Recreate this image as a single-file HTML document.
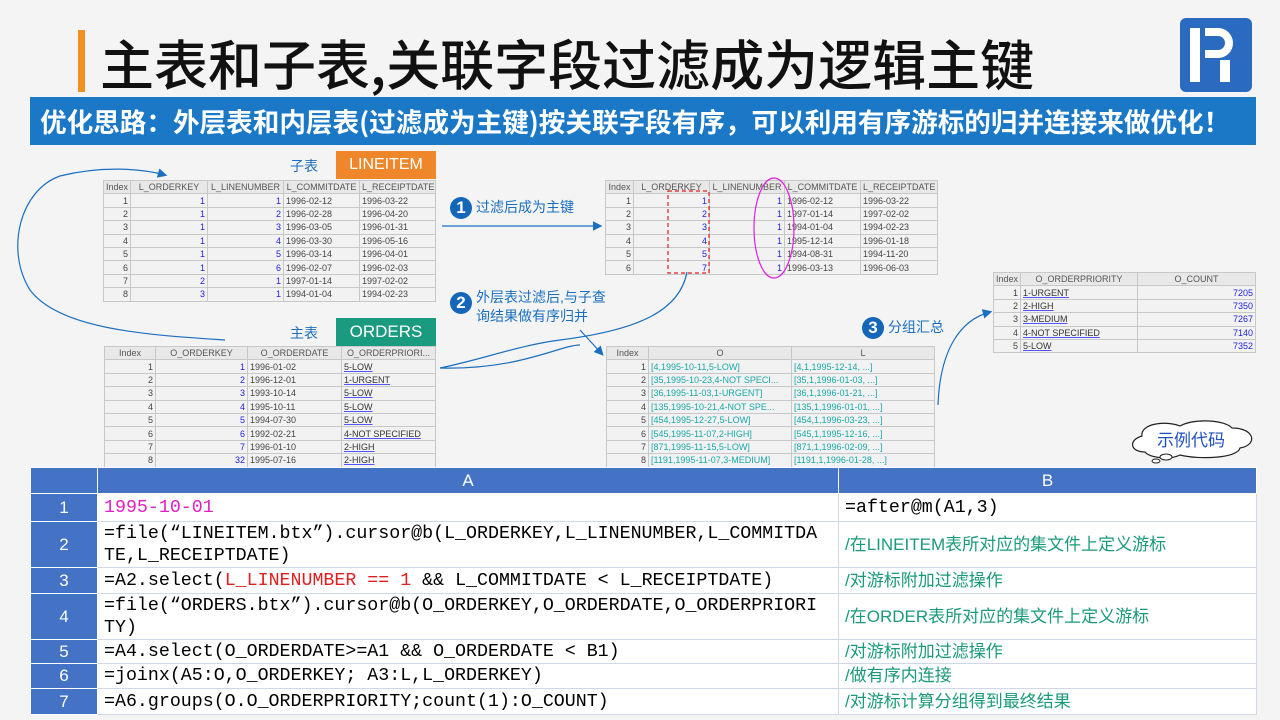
<!DOCTYPE html>
<html><head><meta charset="utf-8"><style>
*{margin:0;padding:0;box-sizing:border-box}
body{width:1280px;height:720px;background:#f4f4f4;position:relative;overflow:hidden;font-family:"Liberation Sans","Noto Sans CJK SC",sans-serif}
.abs{position:absolute}
table.t{position:absolute;border-collapse:collapse;table-layout:fixed;font-size:9px;color:#444;background:#f2f2f2}
table.t td{border:1px solid #c8c8c8;height:13.4px;padding:0 2px;white-space:nowrap;overflow:hidden;line-height:12px}
table.t tr:first-child td{text-align:center;background:#e8e8e8;color:#555}
table.t td.r{text-align:right}
.b{color:#2222dd}
.u{color:#333;text-decoration:underline;text-decoration-color:#55f}
.c{color:#18a8a8}
.lbl{font-size:14px;color:#1a6fc0}
.circ{display:inline-block;width:22px;height:22px;border-radius:50%;background:#1466b8;color:#fff;font-weight:bold;font-size:17px;text-align:center;line-height:22px;vertical-align:middle;margin-right:4px}
table.m{position:absolute;left:30px;top:467px;width:1226px;border-collapse:collapse;table-layout:fixed;font-family:"Liberation Mono","Noto Sans CJK SC",monospace;font-size:18.3px}
table.m td{border:1px solid #d0d8e8;padding:0 6px;background:#fff;line-height:22px;vertical-align:middle;white-space:nowrap}
table.m td.n{background:#4472c4;color:#fff;text-align:center;font-family:"Liberation Sans",sans-serif;border-color:#fff;font-size:17px}
table.m tr.h td{background:#4472c4;color:#fff;text-align:center;font-family:"Liberation Sans",sans-serif;height:26px;border-color:#fff;font-size:17px}
.g{color:#1a9a7a;font-family:"Liberation Sans","Noto Sans CJK SC",sans-serif;font-size:17px}
</style></head><body>
<div class="abs" style="left:78px;top:30px;width:7px;height:62px;background:#f0901e"></div>
<div class="abs" style="left:100px;top:22px;font-size:54px;color:#111;font-family:'Noto Sans CJK SC',sans-serif;font-weight:500;white-space:nowrap">主表和子表,关联字段过滤成为逻辑主键</div>
<div class="abs" style="left:1180px;top:18px;width:72px;height:74px;background:#2a6ac0;border-radius:6px">
<div class="abs" style="left:10px;top:10px;width:10px;height:54px;background:#fff"></div>
<div class="abs" style="left:25px;top:10px;width:28px;height:30px;border:8px solid #fff;border-left:none;border-radius:0 16px 16px 0"></div>
<div class="abs" style="left:40px;top:42px;width:10px;height:22px;background:#fff"></div>
</div>
<div class="abs" style="left:30px;top:97px;width:1226px;height:48px;background:#1a78c6;color:#fff;font-size:26.6px;font-weight:bold;line-height:48px;padding-left:10px;font-family:'Noto Sans CJK SC',sans-serif;white-space:nowrap">优化思路：外层表和内层表(过滤成为主键)按关联字段有序，可以利用有序游标的归并连接来做优化！</div>

<div class="abs lbl" style="left:290px;top:156px">子表</div>
<div class="abs" style="left:336px;top:151px;width:100px;height:28px;background:#f0862a;color:#fff;font-size:16px;text-align:center;line-height:28px">LINEITEM</div>
<table class="t" style="left:103px;top:180px;width:332px">
<col style="width:27px"><col style="width:77px"><col style="width:76px"><col style="width:76px"><col style="width:76px">
<tr><td>Index</td><td>L_ORDERKEY</td><td>L_LINENUMBER</td><td>L_COMMITDATE</td><td>L_RECEIPTDATE</td></tr>
<tr><td class="r">1</td><td class="r b">1</td><td class="r b">1</td><td>1996-02-12</td><td>1996-03-22</td></tr>
<tr><td class="r">2</td><td class="r b">1</td><td class="r b">2</td><td>1996-02-28</td><td>1996-04-20</td></tr>
<tr><td class="r">3</td><td class="r b">1</td><td class="r b">3</td><td>1996-03-05</td><td>1996-01-31</td></tr>
<tr><td class="r">4</td><td class="r b">1</td><td class="r b">4</td><td>1996-03-30</td><td>1996-05-16</td></tr>
<tr><td class="r">5</td><td class="r b">1</td><td class="r b">5</td><td>1996-03-14</td><td>1996-04-01</td></tr>
<tr><td class="r">6</td><td class="r b">1</td><td class="r b">6</td><td>1996-02-07</td><td>1996-02-03</td></tr>
<tr><td class="r">7</td><td class="r b">2</td><td class="r b">1</td><td>1997-01-14</td><td>1997-02-02</td></tr>
<tr><td class="r">8</td><td class="r b">3</td><td class="r b">1</td><td>1994-01-04</td><td>1994-02-23</td></tr>
</table>

<div class="abs lbl" style="left:290px;top:323px">主表</div>
<div class="abs" style="left:336px;top:318px;width:100px;height:28px;background:#1a9a7e;color:#fff;font-size:17px;text-align:center;line-height:28px">ORDERS</div>
<table class="t" style="left:104px;top:346px;width:331px">
<col style="width:51px"><col style="width:92px"><col style="width:94px"><col style="width:94px">
<tr><td>Index</td><td>O_ORDERKEY</td><td>O_ORDERDATE</td><td>O_ORDERPRIORI...</td></tr>
<tr><td class="r">1</td><td class="r b">1</td><td>1996-01-02</td><td><span class="u">5-LOW</span></td></tr>
<tr><td class="r">2</td><td class="r b">2</td><td>1996-12-01</td><td><span class="u">1-URGENT</span></td></tr>
<tr><td class="r">3</td><td class="r b">3</td><td>1993-10-14</td><td><span class="u">5-LOW</span></td></tr>
<tr><td class="r">4</td><td class="r b">4</td><td>1995-10-11</td><td><span class="u">5-LOW</span></td></tr>
<tr><td class="r">5</td><td class="r b">5</td><td>1994-07-30</td><td><span class="u">5-LOW</span></td></tr>
<tr><td class="r">6</td><td class="r b">6</td><td>1992-02-21</td><td><span class="u">4-NOT SPECIFIED</span></td></tr>
<tr><td class="r">7</td><td class="r b">7</td><td>1996-01-10</td><td><span class="u">2-HIGH</span></td></tr>
<tr><td class="r">8</td><td class="r b">32</td><td>1995-07-16</td><td><span class="u">2-HIGH</span></td></tr>
</table>

<table class="t" style="left:605px;top:180px;width:332px">
<col style="width:28px"><col style="width:76px"><col style="width:75px"><col style="width:76px"><col style="width:77px">
<tr><td>Index</td><td>L_ORDERKEY</td><td>L_LINENUMBER</td><td>L_COMMITDATE</td><td>L_RECEIPTDATE</td></tr>
<tr><td class="r">1</td><td class="r b">1</td><td class="r b">1</td><td>1996-02-12</td><td>1996-03-22</td></tr>
<tr><td class="r">2</td><td class="r b">2</td><td class="r b">1</td><td>1997-01-14</td><td>1997-02-02</td></tr>
<tr><td class="r">3</td><td class="r b">3</td><td class="r b">1</td><td>1994-01-04</td><td>1994-02-23</td></tr>
<tr><td class="r">4</td><td class="r b">4</td><td class="r b">1</td><td>1995-12-14</td><td>1996-01-18</td></tr>
<tr><td class="r">5</td><td class="r b">5</td><td class="r b">1</td><td>1994-08-31</td><td>1994-11-20</td></tr>
<tr><td class="r">6</td><td class="r b">7</td><td class="r b">1</td><td>1996-03-13</td><td>1996-06-03</td></tr>
</table>

<table class="t" style="left:606px;top:346px;width:328px">
<col style="width:42px"><col style="width:143px"><col style="width:143px">
<tr><td>Index</td><td>O</td><td>L</td></tr>
<tr><td class="r">1</td><td class="c">[4,1995-10-11,5-LOW]</td><td class="c">[4,1,1995-12-14, ...]</td></tr>
<tr><td class="r">2</td><td class="c">[35,1995-10-23,4-NOT SPECI...</td><td class="c">[35,1,1996-01-03, ...]</td></tr>
<tr><td class="r">3</td><td class="c">[36,1995-11-03,1-URGENT]</td><td class="c">[36,1,1996-01-21, ...]</td></tr>
<tr><td class="r">4</td><td class="c">[135,1995-10-21,4-NOT SPE...</td><td class="c">[135,1,1996-01-01, ...]</td></tr>
<tr><td class="r">5</td><td class="c">[454,1995-12-27,5-LOW]</td><td class="c">[454,1,1996-03-23, ...]</td></tr>
<tr><td class="r">6</td><td class="c">[545,1995-11-07,2-HIGH]</td><td class="c">[545,1,1995-12-16, ...]</td></tr>
<tr><td class="r">7</td><td class="c">[871,1995-11-15,5-LOW]</td><td class="c">[871,1,1996-02-09, ...]</td></tr>
<tr><td class="r">8</td><td class="c">[1191,1995-11-07,3-MEDIUM]</td><td class="c">[1191,1,1996-01-28, ...]</td></tr>
</table>

<table class="t" style="left:993px;top:272px;width:262px">
<col style="width:27px"><col style="width:117px"><col style="width:118px">
<tr><td>Index</td><td>O_ORDERPRIORITY</td><td>O_COUNT</td></tr>
<tr><td class="r">1</td><td><span class="u">1-URGENT</span></td><td class="r b">7205</td></tr>
<tr><td class="r">2</td><td><span class="u">2-HIGH</span></td><td class="r b">7350</td></tr>
<tr><td class="r">3</td><td><span class="u">3-MEDIUM</span></td><td class="r b">7267</td></tr>
<tr><td class="r">4</td><td><span class="u">4-NOT SPECIFIED</span></td><td class="r b">7140</td></tr>
<tr><td class="r">5</td><td><span class="u">5-LOW</span></td><td class="r b">7352</td></tr>
</table>

<div class="abs lbl" style="left:450px;top:197px"><span class="circ">1</span>过滤后成为主键</div>
<div class="abs" style="left:450px;top:288px;display:flex"><span class="circ" style="margin-top:4px">2</span><span class="lbl" style="line-height:19px">外层表过滤后,与子查<br>询结果做有序归并</span></div>
<div class="abs lbl" style="left:862px;top:317px"><span class="circ">3</span>分组汇总</div>

<svg class="abs" style="left:0;top:0" width="1280" height="470">
<defs><marker id="a" markerWidth="8" markerHeight="8" refX="6" refY="4" orient="auto"><path d="M0,0 L8,4 L0,8z" fill="#1a6fc0"/></marker></defs>
<g fill="none" stroke="#1a6fc0" stroke-width="1.2">
<path d="M225,340 C150,335 60,330 30,290 C5,250 20,190 60,176 C100,166 140,168 165,175" marker-end="url(#a)"/>
<path d="M442,226 L600,226" marker-end="url(#a)"/>
<path d="M440,368 C520,370 560,345 580,345" />
<path d="M687,272 C680,310 640,330 560,340 C520,345 480,360 440,368"/>
<path d="M580,330 L602,354" marker-end="url(#a)"/>
<path d="M938,405 C940,350 960,320 990,312" marker-end="url(#a)"/>
</g>
<rect x="668" y="191" width="41" height="82" fill="none" stroke="#e02020" stroke-dasharray="4,3" stroke-width="1.2"/>
<ellipse cx="774" cy="228" rx="20" ry="50" fill="none" stroke="#e020e0" stroke-width="1.2"/>
<path d="M1145,452 C1130,452 1128,440 1142,436 C1140,424 1165,420 1180,426 C1195,418 1225,420 1232,428 C1255,428 1258,445 1240,448 C1238,458 1200,460 1180,455 C1170,460 1150,458 1145,452z" fill="#fff" stroke="#222" stroke-width="1.2"/>
<ellipse cx="1166" cy="457" rx="6" ry="3" fill="#fff" stroke="#222"/>
<ellipse cx="1156" cy="461" rx="4" ry="2" fill="#fff" stroke="#222"/>
<text x="1157" y="446" font-size="17" fill="#2050c0" font-family="Noto Sans CJK SC,sans-serif">示例代码</text>
</svg>

<table class="m">
<col style="width:67px"><col style="width:741px"><col style="width:418px">
<tr class="h"><td></td><td>A</td><td>B</td></tr>
<tr style="height:28px"><td class="n">1</td><td style="color:#e020c0">1995-10-01</td><td>=after@m(A1,3)</td></tr>
<tr style="height:46px"><td class="n">2</td><td>=file(“LINEITEM.btx”).cursor@b(L_ORDERKEY,L_LINENUMBER,L_COMMITDA<br>TE,L_RECEIPTDATE)</td><td class="g">/在LINEITEM表所对应的集文件上定义游标</td></tr>
<tr style="height:26px"><td class="n">3</td><td>=A2.select(<span style="color:#e02020">L_LINENUMBER == 1</span> &amp;&amp; L_COMMITDATE &lt; L_RECEIPTDATE)</td><td class="g">/对游标附加过滤操作</td></tr>
<tr style="height:46px"><td class="n">4</td><td>=file(“ORDERS.btx”).cursor@b(O_ORDERKEY,O_ORDERDATE,O_ORDERPRIORI<br>TY)</td><td class="g">/在ORDER表所对应的集文件上定义游标</td></tr>
<tr style="height:24px"><td class="n">5</td><td>=A4.select(O_ORDERDATE&gt;=A1 &amp;&amp; O_ORDERDATE &lt; B1)</td><td class="g">/对游标附加过滤操作</td></tr>
<tr style="height:25px"><td class="n">6</td><td>=joinx(A5:O,O_ORDERKEY; A3:L,L_ORDERKEY)</td><td class="g">/做有序内连接</td></tr>
<tr style="height:26px"><td class="n">7</td><td>=A6.groups(O.O_ORDERPRIORITY;count(1):O_COUNT)</td><td class="g">/对游标计算分组得到最终结果</td></tr>
</table>
</body></html>
